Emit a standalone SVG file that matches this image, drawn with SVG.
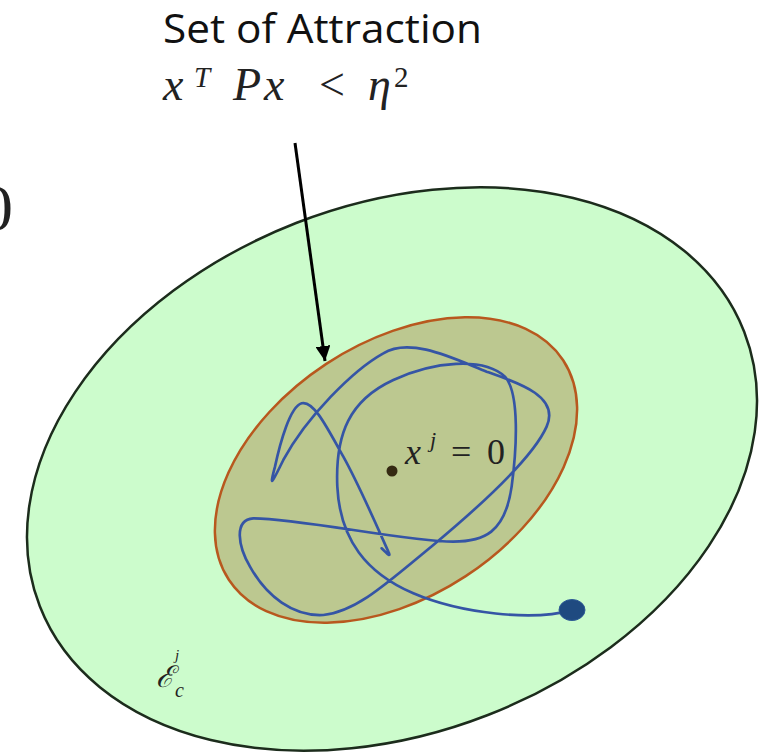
<svg xmlns="http://www.w3.org/2000/svg" width="774" height="753" viewBox="0 0 774 753">
<style>
.title{font-family:"Open Sans","Noto Sans","Liberation Sans",sans-serif;font-size:41px;fill:#111}
.math{font-family:"Liberation Serif","DejaVu Serif",serif;font-style:italic;fill:#222}
.up{font-style:normal}
</style>
<defs>
<marker id="ah" viewBox="0 0 10 10" refX="10" refY="5" markerWidth="5" markerHeight="5" markerUnits="strokeWidth" orient="auto">
<path d="M0,0 L10,5 L0,10 z" fill="#000"/>
</marker>
</defs>
<rect width="774" height="753" fill="#ffffff"/>
<text x="-20" y="230" font-family="Liberation Serif,serif" font-size="66" fill="#222">0</text>
<g id="outer-set">
<ellipse cx="392" cy="469" rx="378" ry="264" transform="rotate(-21.3 392 469)" fill="#ccfccc" stroke="#1c2c1c" stroke-width="2.5"/>
<text class="math" x="156" y="687" font-size="30" fill="#1d3d1d" font-family="DejaVu Serif,serif">ℰ</text>
<text class="math" x="175" y="660" font-size="15" fill="#1d3d1d">j</text>
<text class="math" x="175" y="697" font-size="20" fill="#1d3d1d">c</text>
</g>
<g id="attraction-set">
<ellipse cx="396" cy="470" rx="200" ry="127" transform="rotate(-33.3 396 470)" fill="#bcc890" stroke="#b8581e" stroke-width="2.5"/>
</g>
<g id="trajectory">
<path transform="translate(200 300) scale(0.3333)" fill="none" stroke="#3555a5" stroke-width="8" stroke-linecap="round" stroke-linejoin="round" d="M1115,930 C1000,965 780,940 640,880 C500,820 420,720 412,560 C405,400 450,300 580,240 C700,185 850,170 915,230 C960,280 950,450 935,560 C915,700 850,725 760,725 C620,725 300,655 160,655 C100,660 115,740 150,800 C200,890 280,950 370,945 C470,935 560,850 700,735 C850,610 1000,470 1040,380 C1080,290 960,250 860,215 C760,175 630,110 550,160 C460,210 320,350 250,480 C220,540 205,575 225,500 C240,430 270,320 305,310 C340,300 380,380 430,470 C480,560 540,700 565,755 C575,775 560,760 545,745"/>
<ellipse cx="572" cy="610" rx="13" ry="10.5" fill="#1f4a80" stroke="#2d5a95" stroke-width="1"/>
</g>
<g id="origin">
<circle cx="392" cy="471" r="5.5" fill="#352a12"/>
<text class="math" x="405" y="464" font-size="36" fill="#4a5028">x</text>
<text class="math" x="430" y="447" font-size="22" fill="#4a5028">j</text>
<text class="math up" x="451" y="464" font-size="36" fill="#4a5028">=</text>
<text class="math up" x="487" y="464" font-size="36" fill="#4a5028">0</text>
</g>
<g id="label">
<text class="title" x="163" y="43" textLength="319" lengthAdjust="spacingAndGlyphs">Set of Attraction</text>
<text class="math" y="100" font-size="46"><tspan x="163">x</tspan><tspan x="194" y="87" font-size="29">T</tspan><tspan x="233" y="100">P</tspan><tspan x="264">x</tspan><tspan x="319" class="up">&lt;</tspan><tspan x="368">η</tspan><tspan x="394" y="87" font-size="29" class="up">2</tspan></text>
</g>
<g id="connectors">
<line x1="295" y1="143" x2="325" y2="361" stroke="#000" stroke-width="3" marker-end="url(#ah)"/>
</g>
</svg>
